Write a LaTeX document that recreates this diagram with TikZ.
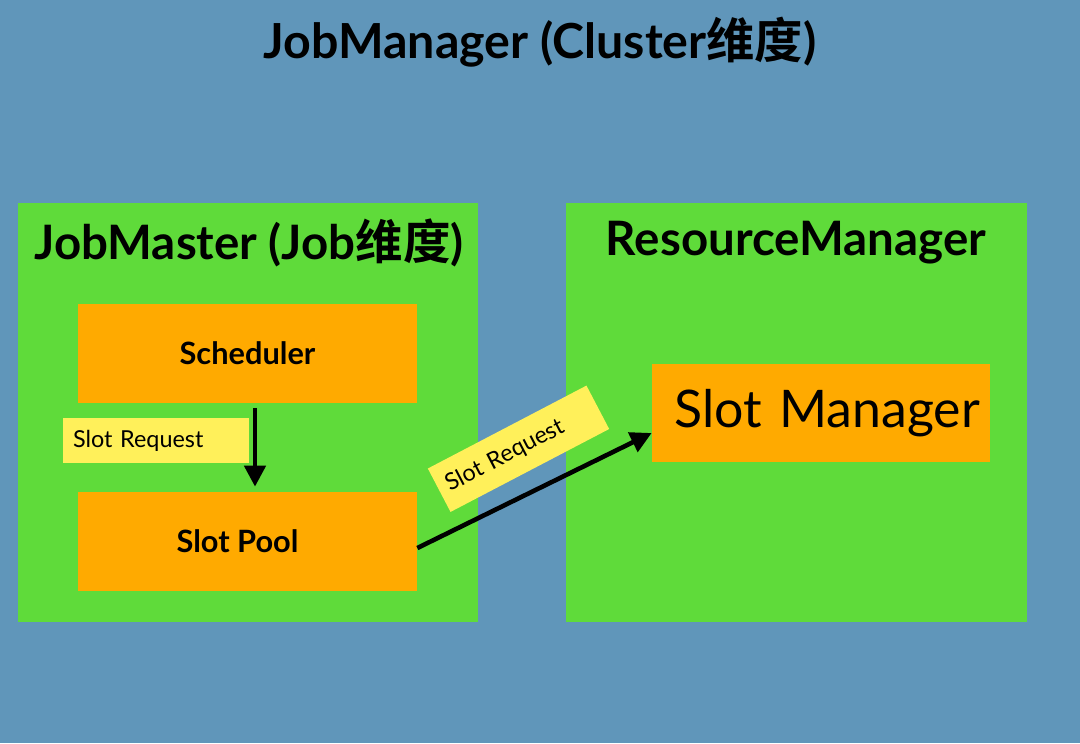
\documentclass[tikz,border=0pt]{standalone}
\usepackage{fontspec}
\setmainfont{Lato}
\newfontfamily\cjk{Noto Sans CJK SC}[BoldFont={Noto Sans CJK SC Bold}]
\newcommand{\zh}[1]{{\cjk #1}}
\usepackage{xcolor}
\usepackage{tikz}
\usetikzlibrary{positioning,arrows.meta}

\definecolor{bgblue}{RGB}{96,150,186}
\definecolor{boxgreen}{RGB}{95,219,58}
\definecolor{boxorange}{RGB}{255,170,0}
\definecolor{noteyellow}{RGB}{255,240,90}

\begin{document}
\begin{tikzpicture}[
  panel/.style={fill=boxgreen, minimum width=9.2cm, minimum height=8.38cm, inner sep=0pt},
  head/.style={font=\fontsize{27}{30}\selectfont\bfseries, inner sep=0pt},
  unit/.style={fill=boxorange, minimum width=6.78cm, minimum height=1.98cm, font=\fontsize{17.5}{20}\selectfont\bfseries},
  note/.style={fill=noteyellow, align=left, inner xsep=0.2cm, inner ysep=0pt, minimum height=0.9cm, font=\fontsize{13.3}{15}\selectfont},
  arr/.style={-{Triangle[length=0.42cm,width=0.42cm]}, line width=2.6pt}
]
% background
\fill[bgblue] (0,0) rectangle (21.6,-14.86);
\node[head, font=\fontsize{27.5}{30}\selectfont\bfseries] (title) at (10.8,-0.84) {JobManager (Cluster\zh{维度})};

\node[panel] (jm) at (4.96,-8.25) {};
\node[panel, minimum width=9.22cm] (rm) at (15.93,-8.25) {};
\node[head] (jmt) at (4.98,-4.86) {JobMaster (Job\zh{维度})};
\node[head] (rmt) at (15.92,-4.86) {ResourceManager};

\node[unit] (sched) at (4.95,-7.06) {Scheduler};
\node[unit] (pool) at (4.95,-10.83) {Slot Pool\kern0.4cm};
\node[unit, minimum width=6.76cm, minimum height=1.96cm, text width=6.36cm, inner xsep=0.2cm, align=right, font=\fontsize{29.5}{32}\selectfont] (mgr) at (16.42,-8.26) {Slot Manager};

\node[note, text width=3.32cm] (req1) at (3.12,-8.81) {Slot Request};
\node[note, text width=3.22cm, minimum height=0.98cm, inner xsep=0.18cm, rotate=27.6] (req2) at (10.37,-8.975) {Slot Request};

\draw[arr] ([xshift=0.15cm,yshift=-0.1cm]sched.south) -- ([xshift=0.15cm,yshift=0.1cm]pool.north);
\draw[arr] ([yshift=-0.13cm]pool.east) -- ([yshift=-0.4cm]mgr.west);
\end{tikzpicture}
\end{document}
